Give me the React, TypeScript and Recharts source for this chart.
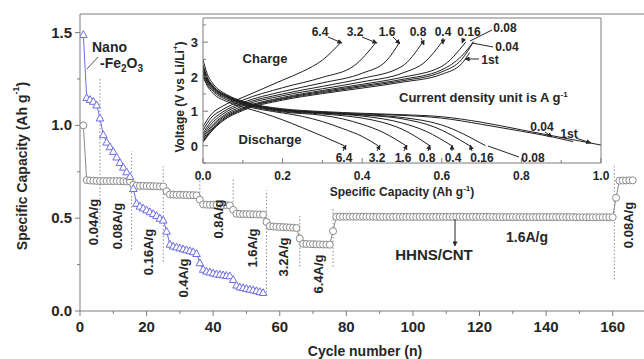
import { LineChart, Line, XAxis, YAxis, ReferenceLine, ReferenceArea } from 'recharts';

const FONT = '"Liberation Sans", Arial, Helvetica, sans-serif';
const AXIS = '#7d7d7d';
const INK = '#262626';
const GRAY = '#8a8a8a';
const BLUE = '#6c6ce4';

// HHNS/CNT specific capacity (Ah/g), cycles 1..166
const hhnsCapacity = [
  1.0,
  0.705, 0.703, 0.702, 0.701, 0.7, 0.7, 0.7, 0.7, 0.7, 0.7, 0.699, 0.699, 0.698, 0.698,
  0.68,
  0.675, 0.674, 0.674, 0.673, 0.673, 0.672, 0.672, 0.671, 0.671,
  0.645,
  0.628, 0.627, 0.626, 0.626, 0.625, 0.625, 0.624, 0.624, 0.623,
  0.6,
  0.574, 0.573, 0.572, 0.572, 0.571, 0.571, 0.57, 0.57, 0.569,
  0.545,
  0.524, 0.523, 0.522, 0.522, 0.521, 0.521, 0.52, 0.52, 0.519,
  0.48,
  0.457, 0.455, 0.454, 0.453, 0.452, 0.451, 0.45, 0.449, 0.447,
  0.39,
  0.362, 0.361, 0.36, 0.36, 0.359, 0.359, 0.358, 0.358, 0.357,
  0.43,
  0.508, 0.508, 0.508, 0.508, 0.508, 0.508, 0.508, 0.508, 0.508, 0.508, 0.508, 0.508,
  0.507, 0.507, 0.507, 0.507, 0.507, 0.507, 0.507, 0.507, 0.507, 0.507, 0.507, 0.507,
  0.507, 0.507, 0.507, 0.507, 0.507, 0.507, 0.507, 0.507, 0.507, 0.507, 0.507, 0.507,
  0.507, 0.507, 0.507, 0.507, 0.507, 0.507, 0.507, 0.507, 0.507, 0.507, 0.507, 0.507,
  0.506, 0.506, 0.506, 0.506, 0.506, 0.506, 0.506, 0.506, 0.506, 0.506, 0.506, 0.506,
  0.506, 0.506, 0.506, 0.506, 0.506, 0.506, 0.506, 0.506, 0.506, 0.506, 0.506, 0.506,
  0.505, 0.505, 0.505, 0.505, 0.505, 0.505, 0.505, 0.505, 0.505, 0.505, 0.505, 0.505,
  0.61,
  0.702, 0.703, 0.703, 0.704, 0.704,
];

// Nano-Fe2O3 specific capacity (Ah/g), cycles 1..55
const nanoCapacity = [
  1.49, 1.15, 1.14, 1.13, 1.11, 1.04, 0.95, 0.91, 0.885, 0.86, 0.83, 0.8, 0.775, 0.75, 0.725,
  0.66, 0.58, 0.565, 0.555, 0.545, 0.535, 0.525, 0.515, 0.5, 0.49,
  0.43, 0.36, 0.35, 0.345, 0.34, 0.335, 0.33, 0.325, 0.32, 0.31,
  0.26, 0.225, 0.215, 0.21, 0.205, 0.2, 0.198, 0.195, 0.192, 0.19,
  0.17, 0.14, 0.13, 0.126, 0.122, 0.118, 0.114, 0.11, 0.105, 0.1,
];

// rate switch markers (dotted lines): cycle, from, to
const switchCycle = [6, 15.5, 25, 36, 46, 56, 66, 76, 160.5];
const switchFrom = [0.45, 0.33, 0.265, 0.58, 0.53, 0.1, 0.24, 0.24, 0.17];
const switchTo = [1.25, 0.86, 0.78, 0.74, 0.71, 0.65, 0.52, 0.56, 0.78];

const cycleTicks = [0, 10, 20, 30, 40, 50, 60, 70, 80, 90, 100, 110, 120, 130, 140, 150, 160];
const capacityTicks = [0, 0.25, 0.5, 0.75, 1.0, 1.25, 1.5];

// inset: voltage profiles [capacity Ah/g, voltage V]
const chargeLabels = ['6.4', '3.2', '1.6', '0.8', '0.4', '0.16', '0.08', '0.04', '1st'];
const charge64 = [[0, 0.55], [0.02, 0.9], [0.05, 1.15], [0.1, 1.4], [0.15, 1.65], [0.2, 1.9], [0.25, 2.15], [0.3, 2.48], [0.347, 3.0]];
const charge32 = [[0, 0.45], [0.02, 0.8], [0.05, 1.05], [0.1, 1.32], [0.2, 1.68], [0.3, 1.98], [0.38, 2.32], [0.435, 3.0]];
const charge16 = [[0, 0.36], [0.02, 0.7], [0.05, 0.98], [0.1, 1.25], [0.2, 1.57], [0.3, 1.82], [0.4, 2.1], [0.46, 2.45], [0.494, 3.0]];
const charge08 = [[0, 0.3], [0.02, 0.62], [0.05, 0.92], [0.1, 1.2], [0.2, 1.5], [0.3, 1.72], [0.4, 1.95], [0.5, 2.3], [0.552, 3.0]];
const charge04 = [[0, 0.25], [0.02, 0.55], [0.05, 0.86], [0.1, 1.15], [0.2, 1.45], [0.3, 1.65], [0.4, 1.85], [0.5, 2.1], [0.56, 2.45], [0.6, 3.0]];
const charge016 = [[0, 0.2], [0.02, 0.5], [0.05, 0.82], [0.1, 1.1], [0.2, 1.4], [0.3, 1.6], [0.4, 1.78], [0.5, 1.98], [0.6, 2.3], [0.66, 3.0]];
const charge008 = [[0, 0.15], [0.02, 0.45], [0.05, 0.78], [0.1, 1.07], [0.2, 1.37], [0.3, 1.57], [0.4, 1.74], [0.5, 1.92], [0.6, 2.2], [0.65, 2.6], [0.68, 3.02]];
const charge004 = [[0, 0.12], [0.02, 0.42], [0.05, 0.75], [0.1, 1.05], [0.2, 1.35], [0.3, 1.54], [0.4, 1.71], [0.5, 1.88], [0.6, 2.14], [0.65, 2.5], [0.678, 2.98]];
const charge1st = [[0, 0.1], [0.02, 0.4], [0.05, 0.72], [0.1, 1.02], [0.2, 1.32], [0.3, 1.51], [0.4, 1.67], [0.5, 1.84], [0.6, 2.07], [0.65, 2.38], [0.67, 2.7]];

const discharge64 = [[0, 2.0], [0.01, 1.75], [0.025, 1.52], [0.06, 1.28], [0.1, 1.12], [0.15, 0.95], [0.2, 0.75], [0.25, 0.52], [0.3, 0.28], [0.355, 0.0]];
const discharge32 = [[0, 2.05], [0.01, 1.8], [0.025, 1.58], [0.06, 1.33], [0.1, 1.17], [0.15, 1.04], [0.2, 0.95], [0.25, 0.85], [0.3, 0.7], [0.35, 0.5], [0.4, 0.27], [0.44, 0.0]];
const discharge16 = [[0, 2.1], [0.01, 1.85], [0.025, 1.62], [0.06, 1.37], [0.1, 1.2], [0.15, 1.07], [0.2, 0.98], [0.3, 0.88], [0.35, 0.78], [0.4, 0.62], [0.45, 0.4], [0.51, 0.0]];
const discharge08 = [[0, 2.15], [0.01, 1.88], [0.025, 1.65], [0.06, 1.4], [0.1, 1.22], [0.15, 1.09], [0.2, 1.0], [0.3, 0.92], [0.4, 0.8], [0.45, 0.68], [0.5, 0.48], [0.57, 0.0]];
const discharge04 = [[0, 2.2], [0.01, 1.92], [0.025, 1.68], [0.06, 1.42], [0.1, 1.24], [0.15, 1.1], [0.2, 1.02], [0.3, 0.94], [0.4, 0.86], [0.5, 0.66], [0.56, 0.42], [0.625, 0.0]];
const discharge016 = [[0, 2.25], [0.01, 1.95], [0.025, 1.7], [0.06, 1.43], [0.1, 1.25], [0.15, 1.11], [0.2, 1.03], [0.3, 0.95], [0.4, 0.89], [0.5, 0.78], [0.58, 0.55], [0.67, 0.0]];
const discharge008 = [[0, 2.3], [0.01, 1.98], [0.025, 1.72], [0.06, 1.44], [0.1, 1.26], [0.15, 1.12], [0.2, 1.04], [0.3, 0.96], [0.4, 0.9], [0.5, 0.82], [0.6, 0.6], [0.71, 0.0]];
const discharge004 = [[0, 2.35], [0.01, 2.0], [0.025, 1.74], [0.06, 1.45], [0.1, 1.27], [0.15, 1.13], [0.2, 1.05], [0.3, 0.97], [0.4, 0.92], [0.5, 0.88], [0.6, 0.8], [0.7, 0.62], [0.8, 0.42], [0.88, 0.25], [0.93, 0.12]];
const discharge1st = [[0, 2.5], [0.01, 2.1], [0.025, 1.8], [0.06, 1.48], [0.1, 1.29], [0.15, 1.15], [0.2, 1.07], [0.3, 0.99], [0.4, 0.94], [0.5, 0.9], [0.6, 0.84], [0.7, 0.68], [0.8, 0.46], [0.9, 0.24], [1.0, 0.02]];

const insetCapTicks = [0, 0.1, 0.2, 0.3, 0.4, 0.5, 0.6, 0.7, 0.8, 0.9, 1.0];
const insetVoltTicks = [-0.5, 0, 0.5, 1, 1.5, 2, 2.5, 3, 3.5];

const chargeCurves = [charge64, charge32, charge16, charge08, charge04, charge016, charge008, charge004, charge1st];
const dischargeCurves = [discharge64, discharge32, discharge16, discharge08, discharge04, discharge016, discharge008, discharge004, discharge1st];

const hhnsRows = hhnsCapacity.map((cap, i) => ({ cycle: i + 1, cap }));
const nanoRows = nanoCapacity.map((cap, i) => ({ cycle: i + 1, cap }));
const toRows = (pts: number[][]) => pts.map(([cap, v]) => ({ cap, v }));

const textStyle = { fontFamily: FONT, fontWeight: 700, fill: INK } as const;

// ---- main chart ticks ----
const MainXTick = ({ x, y, payload }: any) => {
  const major = payload.value % 20 === 0;
  return (
    <g>
      <line x1={x} x2={x} y1={y} y2={y + (major ? 5 : 3)} stroke={AXIS} />
      {major && (
        <text x={x} y={y + 21} textAnchor="middle" fontSize={15} {...textStyle}>{payload.value}</text>
      )}
    </g>
  );
};

const MainYTick = ({ x, y, payload }: any) => {
  const major = Math.round(payload.value * 4) % 2 === 0;
  return (
    <g>
      <line x1={x - (major ? 5 : 3)} x2={x} y1={y} y2={y} stroke={AXIS} />
      {major && (
        <text x={x - 8} y={y + 5} textAnchor="end" fontSize={15} {...textStyle}>{payload.value.toFixed(1)}</text>
      )}
    </g>
  );
};

const MainRightTick = ({ x, y }: any) => <line x1={x - 5} x2={x} y1={y} y2={y} stroke={AXIS} />;

// ---- inset ticks (all pointing inward) ----
const InsetBottomTick = ({ x, y, payload }: any) => {
  const major = Math.round(payload.value * 10) % 2 === 0;
  return (
    <g>
      <line x1={x} x2={x} y1={y} y2={y - (major ? 5 : 3)} stroke={AXIS} />
      {major && (
        <text x={x} y={y + 17} textAnchor="middle" fontSize={12} {...textStyle}>{payload.value.toFixed(1)}</text>
      )}
    </g>
  );
};
const InsetTopTick = ({ x, y, payload }: any) => {
  const major = Math.round(payload.value * 10) % 2 === 0;
  return <line x1={x} x2={x} y1={y} y2={y + (major ? 5 : 3)} stroke={AXIS} />;
};
const InsetLeftTick = ({ x, y, payload }: any) => {
  const major = Number.isInteger(payload.value);
  return (
    <g>
      <line x1={x} x2={x + (major ? 5 : 3)} y1={y} y2={y} stroke={AXIS} />
      {major && payload.value >= 0 && (
        <text x={x - 5} y={y + 5} textAnchor="end" fontSize={13} {...textStyle}>{payload.value}</text>
      )}
    </g>
  );
};
const InsetRightTick = ({ x, y, payload }: any) => {
  const major = Number.isInteger(payload.value);
  return <line x1={x - (major ? 5 : 3)} x2={x} y1={y} y2={y} stroke={AXIS} />;
};

const CircleDot = (p: any) => (
  <circle key={`c-${p.index}`} cx={p.cx} cy={p.cy} r={3.5} fill="#fff" stroke={GRAY} strokeWidth={1} />
);

const TriangleDot = (p: any) => {
  const s = 3.8;
  const { cx, cy } = p;
  return (
    <polygon
      key={`t-${p.index}`}
      points={`${cx},${cy - s} ${cx - s},${cy + s * 0.8} ${cx + s},${cy + s * 0.8}`}
      fill="#fff"
      stroke={BLUE}
      strokeWidth={1}
    />
  );
};

// annotation helpers (pixel space overlay)
const VText = ({ x, y, children, size = 13 }: any) => (
  <text transform={`translate(${x},${y}) rotate(-90)`} textAnchor="middle" dominantBaseline="central" fontSize={size} {...textStyle}>
    {children}
  </text>
);

const Arrow = ({ x1, y1, x2, y2, head = true }: any) => (
  <line x1={x1} y1={y1} x2={x2} y2={y2} stroke={INK} strokeWidth={1} markerEnd={head ? 'url(#ah)' : undefined} />
);

const rateLabels = [
  { text: '0.04A/g', x: 93, y: 222 },
  { text: '0.08A/g', x: 117, y: 226 },
  { text: '0.16A/g', x: 148, y: 252 },
  { text: '0.4A/g', x: 183, y: 278 },
  { text: '0.8A/g', x: 218, y: 219 },
  { text: '1.6A/g', x: 252, y: 248 },
  { text: '3.2A/g', x: 283, y: 257 },
  { text: '6.4A/g', x: 318, y: 274 },
  { text: '0.08A/g', x: 628, y: 225 },
];

const chargeTags = [
  { x: 320, y: 36, ax: [328, 37, 342, 43] },
  { x: 355, y: 36, ax: [362, 37, 377, 43] },
  { x: 387, y: 36, ax: [393, 37, 400, 44] },
  { x: 418, y: 36, ax: [421, 38, 424, 45] },
  { x: 443, y: 36, ax: [443, 38, 443, 44] },
  { x: 469, y: 36, ax: [464, 38, 462, 43] },
  { x: 505, y: 32, ax: [492, 30, 470, 41] },
  { x: 507, y: 51, ax: [493, 47, 472, 43] },
  { x: 490, y: 64, ax: [479, 59, 465, 59] },
];

const dischargeTags = [
  { x: 344, y: 162, ax: [343, 151, 346, 145] },
  { x: 377, y: 162, ax: [377, 151, 380, 145] },
  { x: 403, y: 162, ax: [404, 151, 407, 145] },
  { x: 427, y: 162, ax: [428, 151, 430, 145] },
  { x: 453, y: 162, ax: [452, 151, 452, 145] },
  { x: 482, y: 162, ax: [472, 151, 470, 145] },
  { x: 533, y: 162, ax: [519, 157, 488, 146] },
  { x: 542, y: 131, ax: [545, 132, 552, 137] },
  { x: 569, y: 138, ax: [576, 138, 591, 143] },
];

export default function App() {
  return (
    <div style={{ position: 'absolute', left: 0, top: 0, width: 644, height: 359, overflow: 'hidden', background: '#fff' }}>
      {/* main cycling chart */}
      <div style={{ position: 'absolute', left: 0, top: 0 }}>
        <LineChart width={650} height={359} margin={{ top: 14, right: 0, bottom: 18, left: 20 }}>
          <XAxis
            dataKey="cycle"
            type="number"
            domain={[0, 170]}
            ticks={cycleTicks}
            interval={0}
            allowDataOverflow
            height={30}
            tickSize={0}
            tickMargin={0}
            tickLine={false}
            axisLine={{ stroke: AXIS }}
            tick={<MainXTick />}
          />
          <YAxis
            type="number"
            domain={[0, 1.6]}
            ticks={capacityTicks}
            interval={0}
            allowDataOverflow
            width={60}
            tickSize={0}
            tickMargin={0}
            tickLine={false}
            axisLine={{ stroke: AXIS }}
            tick={<MainYTick />}
          />
          <YAxis
            yAxisId="r"
            orientation="right"
            type="number"
            domain={[0, 1.6]}
            ticks={capacityTicks.slice(1)}
            interval={0}
            width={4}
            tickSize={0}
            tickMargin={0}
            tickLine={false}
            axisLine={{ stroke: AXIS }}
            tick={<MainRightTick />}
          />
          <ReferenceLine y={1.6} stroke={AXIS} />
          {switchCycle.map((c, i) => (
            <ReferenceLine
              key={`sw-${i}`}
              segment={[{ x: c, y: switchFrom[i] }, { x: c, y: switchTo[i] }]}
              stroke="#8a8a8a"
              strokeDasharray="1.5 2"
            />
          ))}
          <Line data={hhnsRows} dataKey="cap" stroke={GRAY} strokeWidth={1} dot={CircleDot} isAnimationActive={false} />
          <Line data={nanoRows} dataKey="cap" stroke={BLUE} strokeWidth={1} dot={TriangleDot} isAnimationActive={false} />
        </LineChart>
      </div>

      {/* inset: voltage profiles */}
      <div style={{ position: 'absolute', left: 150, top: 0 }}>
        <LineChart width={460} height={205} margin={{ top: 14, right: 5, bottom: 12, left: 23 }}>
          <XAxis
            dataKey="cap"
            type="number"
            domain={[0, 1]}
            ticks={insetCapTicks}
            interval={0}
            allowDataOverflow
            height={30}
            tickSize={0}
            tickMargin={0}
            tickLine={false}
            axisLine={{ stroke: AXIS }}
            tick={<InsetBottomTick />}
          />
          <XAxis
            xAxisId="top"
            orientation="top"
            type="number"
            domain={[0, 1]}
            ticks={insetCapTicks}
            interval={0}
            height={4}
            tickSize={0}
            tickMargin={0}
            tickLine={false}
            axisLine={{ stroke: AXIS }}
            tick={<InsetTopTick />}
          />
          <YAxis
            type="number"
            domain={[-0.5, 3.7]}
            ticks={insetVoltTicks}
            interval={0}
            allowDataOverflow
            width={30}
            tickSize={0}
            tickMargin={0}
            tickLine={false}
            axisLine={{ stroke: AXIS }}
            tick={<InsetLeftTick />}
          />
          <YAxis
            yAxisId="r"
            orientation="right"
            type="number"
            domain={[-0.5, 3.7]}
            ticks={insetVoltTicks}
            interval={0}
            width={4}
            tickSize={0}
            tickMargin={0}
            tickLine={false}
            axisLine={{ stroke: AXIS }}
            tick={<InsetRightTick />}
          />
          <ReferenceArea x1={0} x2={1} y1={-0.5} y2={3.7} fill="#fff" fillOpacity={1} stroke="none" />
          {chargeCurves.map((pts, i) => (
            <Line
              key={`ch-${chargeLabels[i]}`}
              data={toRows(pts)}
              dataKey="v"
              type="monotone"
              stroke="#1e1e1e"
              strokeWidth={1}
              dot={false}
              isAnimationActive={false}
            />
          ))}
          {dischargeCurves.map((pts, i) => (
            <Line
              key={`dc-${chargeLabels[i]}`}
              data={toRows(pts)}
              dataKey="v"
              type="monotone"
              stroke="#1e1e1e"
              strokeWidth={1}
              dot={false}
              isAnimationActive={false}
            />
          ))}
        </LineChart>
      </div>

      {/* text annotations */}
      <svg width={644} height={359} style={{ position: 'absolute', left: 0, top: 0, pointerEvents: 'none' }}>
        <defs>
          <marker id="ah" viewBox="0 0 6 6" refX="5.5" refY="3" markerWidth="5" markerHeight="5" orient="auto">
            <path d="M0,0 L6,3 L0,6 z" fill={INK} />
          </marker>
        </defs>

        {/* axis titles */}
        <text x={365} y={356} textAnchor="middle" fontSize={14} {...textStyle}>Cycle number (n)</text>
        <text transform="translate(22,166) rotate(-90)" textAnchor="middle" dominantBaseline="central" fontSize={14} {...textStyle}>
          Specific Capacity (Ah g<tspan dy={-6} fontSize={9}>-1</tspan><tspan dy={6}>)</tspan>
        </text>
        <text x={402} y={196} textAnchor="middle" fontSize={12} {...textStyle}>
          Specific Capacity (Ah g<tspan dy={-5} fontSize={8}>-1</tspan><tspan dy={5}>)</tspan>
        </text>
        <text transform="translate(180,97) rotate(-90)" textAnchor="middle" dominantBaseline="central" fontSize={12} {...textStyle}>
          Voltage (V vs Li/Li<tspan dy={-5} fontSize={8}>+</tspan><tspan dy={5}>)</tspan>
        </text>

        {/* current density labels */}
        {rateLabels.map((r, i) => (
          <VText key={`rl-${i}`} x={r.x} y={r.y}>{r.text}</VText>
        ))}
        <text x={527} y={242} textAnchor="middle" fontSize={14} {...textStyle}>1.6A/g</text>
        <text x={434} y={260} textAnchor="middle" fontSize={15} {...textStyle}>HHNS/CNT</text>
        <Arrow x1={455} y1={219} x2={455} y2={246} />

        <text x={92} y={52} fontSize={14} {...textStyle}>Nano</text>
        <text x={100} y={68} fontSize={14} {...textStyle}>
          -Fe<tspan dy={4} fontSize={10}>2</tspan><tspan dy={-4}>O</tspan><tspan dy={4} fontSize={10}>3</tspan>
        </text>
        <line x1={98} y1={57} x2={87} y2={69} stroke="#555" strokeWidth={1} />

        {/* inset labels */}
        <text x={265} y={63} textAnchor="middle" fontSize={13} {...textStyle}>Charge</text>
        <text x={270} y={144} textAnchor="middle" fontSize={13} {...textStyle}>Discharge</text>
        <text x={399} y={102} fontSize={13} {...textStyle}>
          Current density unit is A g<tspan dy={-5} fontSize={8}>-1</tspan>
        </text>
        {chargeTags.map((t, i) => (
          <g key={`ct-${i}`}>
            <text x={t.x} y={t.y} textAnchor="middle" fontSize={12} {...textStyle}>{chargeLabels[i]}</text>
            <Arrow x1={t.ax[0]} y1={t.ax[1]} x2={t.ax[2]} y2={t.ax[3]} head={i < 6 || i === 8} />
          </g>
        ))}
        {dischargeTags.map((t, i) => (
          <g key={`dt-${i}`}>
            <text x={t.x} y={t.y} textAnchor="middle" fontSize={12} {...textStyle}>{chargeLabels[i]}</text>
            <Arrow x1={t.ax[0]} y1={t.ax[1]} x2={t.ax[2]} y2={t.ax[3]} head={i !== 6} />
          </g>
        ))}
      </svg>
    </div>
  );
}
